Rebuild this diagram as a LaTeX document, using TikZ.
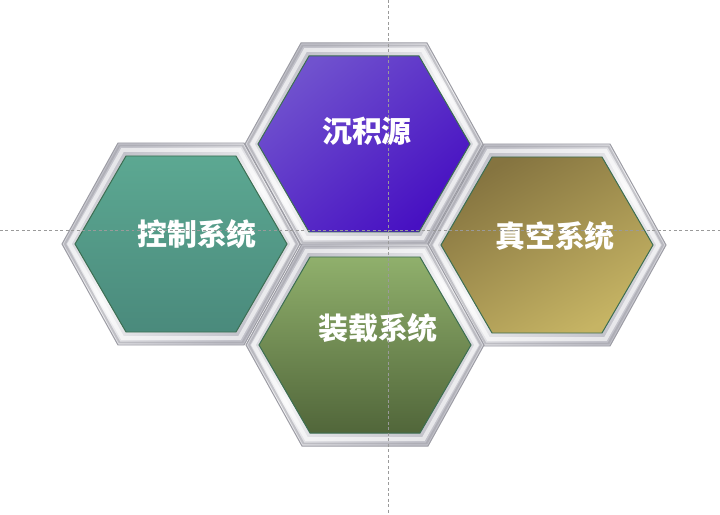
\documentclass[tikz,border=0pt]{standalone}
\usepackage{fontspec}
\newfontfamily\cjk{Noto Sans CJK SC}
\usetikzlibrary{calc}
\definecolor{purA}{HTML}{7052CE}
\definecolor{purB}{HTML}{4710C2}
\definecolor{tealA}{HTML}{5CA892}
\definecolor{tealB}{HTML}{4A8A7C}
\definecolor{oliA}{HTML}{90B06C}
\definecolor{oliB}{HTML}{51663A}
\definecolor{goldA}{HTML}{857440}
\definecolor{goldB}{HTML}{C6B464}
\definecolor{rimline}{HTML}{3C6E52}
\definecolor{silverD}{HTML}{9C9CA4}
\definecolor{silverM}{HTML}{C2C2CA}
\definecolor{guide}{HTML}{9A9A9A}
\tikzset{
  label/.style={font=\cjk\bfseries\fontsize{30}{30}\selectfont, text=white, inner sep=0pt},
  guideline/.style={draw=guide, dashed, dash pattern=on 3pt off 2.5pt, line width=0.6pt},
  frame/.style={top color=silverM, bottom color=silverM, middle color=white!85!silverM, shading angle=35, draw=silverD, line width=1pt},
  highlight/.style={draw=white, line width=4pt, opacity=0.6, line join=miter},
  shadowline/.style={draw=silverD, line width=2pt, opacity=0.5},
  core/.style={draw=rimline, line width=1pt}
}
% hexagon path: center (#1,#2), half-width #3, half-height #4, half top edge #5
\newcommand\hexagonpath[5]{(#1-#5,#2-#4) -- (#1+#5,#2-#4) -- (#1+#3,#2) -- (#1+#5,#2+#4) -- (#1-#5,#2+#4) -- (#1-#3,#2) -- cycle}
\newcommand\hexframe[2]{%
  \shade[frame] \hexagonpath{#1}{#2}{119}{101}{63};
  \draw[shadowline] \hexagonpath{#1}{#2}{116}{98.5}{61.5};
  \draw[highlight] \hexagonpath{#1}{#2}{111.5}{94}{58.5};
}
\begin{document}
\begin{tikzpicture}[x=1bp,y=-1bp]
\useasboundingbox (0,0) rectangle (720,515);
\fill[white] (0,0) rectangle (720,515);
% centres
\coordinate (cL) at (181,244);
\coordinate (cT) at (364,144);
\coordinate (cB) at (365,345);
\coordinate (cR) at (547,245);
% silver frames
\hexframe{181}{244}
\hexframe{547}{245}
\hexframe{364}{144}
\hexframe{365}{345}
% coloured cores
\shade[core, top color=tealA, bottom color=tealB] \hexagonpath{181}{244}{106}{88}{55};
\shade[core, top color=purA, bottom color=purB, shading angle=40] \hexagonpath{364}{144}{106}{88}{55};
\shade[core, top color=oliA, bottom color=oliB] \hexagonpath{365}{345}{106}{88}{55};
\shade[core, top color=goldA, bottom color=goldB, shading angle=30] \hexagonpath{547}{245}{106}{88}{55};
% labels
\node[label] (tT) at (367,131) {沉积源};
\node[label] (tL) at (197,234) {控制系统};
\node[label] (tB) at (378,328) {装载系统};
\node[label] (tR) at (555,236) {真空系统};
% guide lines
\coordinate (gTop) at (388,0);
\coordinate (gBot) at (388,515);
\coordinate (gLft) at (0,230);
\coordinate (gRgt) at (720,230);
\draw[guideline] (gTop) -- (gBot);
\draw[guideline] (gLft) -- (gRgt);
\end{tikzpicture}
\end{document}
